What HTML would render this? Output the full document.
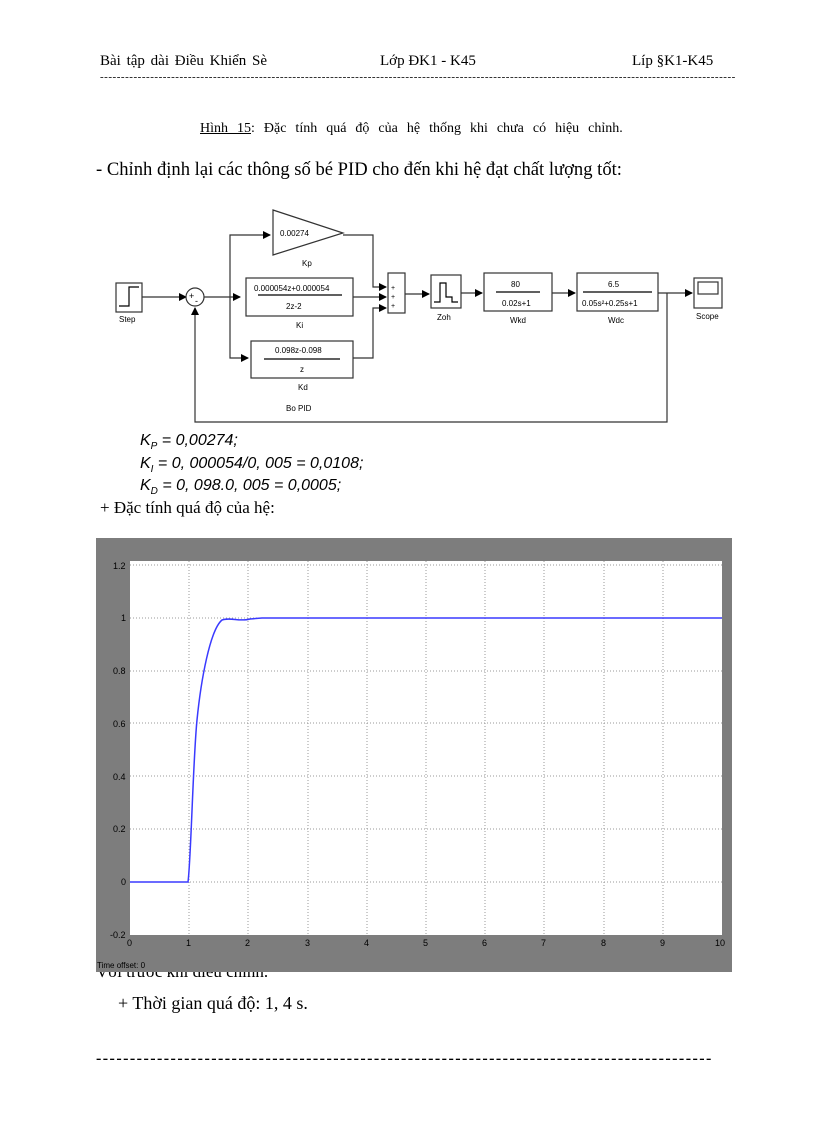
<!DOCTYPE html>
<html><head><meta charset="utf-8"><style>
body{margin:0;background:#fff;width:816px;height:1123px;overflow:hidden;position:relative;font-family:"Liberation Serif",serif;color:#000}
.t{position:absolute;white-space:nowrap;z-index:0}
.k{position:absolute;white-space:nowrap;font-size:16px;font-style:italic;font-family:'Liberation Sans',sans-serif;line-height:18px}
.k sub{font-size:10px;vertical-align:0;position:relative;top:4px;line-height:0}
</style></head><body>
<div class="t" style="left:100px;top:53px;font-size:15px;word-spacing:2px">Bài tập dài Điều Khiển Sè</div>
<div class="t" style="left:380px;top:53px;font-size:15px">Lớp ĐK1 - K45</div>
<div class="t" style="left:632px;top:53px;font-size:15px">Líp §K1-K45</div>
<div class="t" style="left:100px;top:71px;font-size:11px;letter-spacing:0.52px">--------------------------------------------------------------------------------------------------------------------------------------------------------</div>
<div class="t" style="left:200px;top:121px;font-size:14px;word-spacing:5.5px"><u>Hình 15</u>: Đặc tính quá độ của hệ thống khi chưa có hiệu chỉnh.</div>
<div class="t" style="left:96px;top:159px;font-size:18.6px">- Chỉnh định lại các thông số bé PID cho đến khi hệ đạt chất lượng tốt:</div>
<div class="k" style="left:140px;top:432px">K<sub>P</sub> = 0,00274;</div>
<div class="k" style="left:140px;top:455px">K<sub>I</sub> = 0, 000054/0, 005 = 0,0108;</div>
<div class="k" style="left:140px;top:477px">K<sub>D</sub> = 0, 098.0, 005 = 0,0005;</div>
<div class="t" style="left:100px;top:498px;font-size:17px">+ Đặc tính quá độ của hệ:</div>
<div class="t" style="left:96px;top:962px;font-size:17px">Với trước khi điều chỉnh.</div>
<div class="t" style="left:118px;top:993px;font-size:18px">+ Thời gian quá độ: 1, 4 s.</div>
<div class="t" style="left:96px;top:1050px;font-size:16px;font-weight:bold;letter-spacing:1.45px">-------------------------------------------------------------------------------------------</div>

<svg style="position:absolute;left:0;top:0;z-index:1" width="816" height="1123" font-family="Liberation Sans,sans-serif">
<defs><marker id="a" markerWidth="8" markerHeight="8" refX="7" refY="4" orient="auto" markerUnits="userSpaceOnUse"><path d="M0,0L8,4L0,8z" fill="#000"/></marker></defs>
<g stroke="#333" fill="none" stroke-width="1.2">
<rect x="116" y="283" width="26" height="29" fill="#fff"/>
<path d="M119,306 H129 V287 H139" stroke="#000"/>
<line x1="142" y1="297" x2="186" y2="297" marker-end="url(#a)"/>
<circle cx="195" cy="297" r="9" fill="#fff"/>
<line x1="204" y1="297" x2="240" y2="297" marker-end="url(#a)"/>
<path d="M230,297 V235 H270" marker-end="url(#a)"/>
<path d="M230,297 V358 H248" marker-end="url(#a)"/>
<polygon points="273,210 343,233 273,255" fill="#fff"/>
<rect x="246" y="278" width="107" height="38" fill="#fff"/>
<rect x="251" y="341" width="102" height="37" fill="#fff"/>
<path d="M343,235 H373 V287 H386" marker-end="url(#a)"/>
<line x1="353" y1="297" x2="386" y2="297" marker-end="url(#a)"/>
<path d="M353,358 H373 V308 H386" marker-end="url(#a)"/>
<rect x="388" y="273" width="17" height="40" fill="#fff"/>
<line x1="405" y1="294" x2="429" y2="294" marker-end="url(#a)"/>
<rect x="431" y="275" width="30" height="33" fill="#fff"/>
<path d="M434,302 H440 V283 H446 V297 H452 V302 H458" stroke="#000"/>
<line x1="461" y1="293" x2="482" y2="293" marker-end="url(#a)"/>
<rect x="484" y="273" width="68" height="38" fill="#fff"/>
<line x1="552" y1="293" x2="575" y2="293" marker-end="url(#a)"/>
<rect x="577" y="273" width="81" height="38" fill="#fff"/>
<line x1="658" y1="293" x2="692" y2="293" marker-end="url(#a)"/>
<rect x="694" y="278" width="28" height="30" fill="#fff"/>
<rect x="698" y="282" width="20" height="12"/>
<path d="M667,293 V422 H195 V308" marker-end="url(#a)"/>
<line x1="258" y1="295" x2="342" y2="295" stroke="#000"/>
<line x1="264" y1="359" x2="340" y2="359" stroke="#000"/>
<line x1="496" y1="292" x2="540" y2="292" stroke="#000"/>
<line x1="583" y1="292" x2="652" y2="292" stroke="#000"/>
</g>
<g font-size="8" fill="#000">
<text x="119" y="322">Step</text>
<text x="189" y="299" font-size="9">+</text><text x="195" y="304" font-size="9">-</text>
<text x="280" y="236">0.00274</text>
<text x="302" y="266">Kp</text>
<text x="254" y="291">0.000054z+0.000054</text>
<text x="286" y="309">2z-2</text>
<text x="296" y="328">Ki</text>
<text x="275" y="353">0.098z-0.098</text>
<text x="300" y="372">z</text>
<text x="298" y="390">Kd</text>
<text x="286" y="411">Bo PID</text>
<text x="391" y="290" font-size="7">+</text><text x="391" y="299" font-size="7">+</text><text x="391" y="308" font-size="7">+</text>
<text x="437" y="320">Zoh</text>
<text x="511" y="287">80</text>
<text x="502" y="306">0.02s+1</text>
<text x="510" y="323">Wkd</text>
<text x="608" y="287">6.5</text>
<text x="582" y="306">0.05s²+0.25s+1</text>
<text x="608" y="323">Wdc</text>
<text x="696" y="319">Scope</text>
</g>

<rect x="96" y="538" width="636" height="434" fill="#7d7d7d"/>
<rect x="130" y="561" width="592" height="374" fill="#fff"/>
<g stroke="#999" stroke-dasharray="1,2" stroke-width="1">
<line x1="189" y1="561" x2="189" y2="935"/><line x1="248" y1="561" x2="248" y2="935"/><line x1="308" y1="561" x2="308" y2="935"/><line x1="367" y1="561" x2="367" y2="935"/><line x1="426" y1="561" x2="426" y2="935"/><line x1="485" y1="561" x2="485" y2="935"/><line x1="544" y1="561" x2="544" y2="935"/><line x1="604" y1="561" x2="604" y2="935"/><line x1="663" y1="561" x2="663" y2="935"/>
<line x1="130" y1="565" x2="722" y2="565"/><line x1="130" y1="618" x2="722" y2="618"/><line x1="130" y1="671" x2="722" y2="671"/><line x1="130" y1="723" x2="722" y2="723"/><line x1="130" y1="776" x2="722" y2="776"/><line x1="130" y1="829" x2="722" y2="829"/><line x1="130" y1="882" x2="722" y2="882"/>
</g>
<path d="M130,882 H188 C191,860 193,760 197,720 C201,680 210,630 222,620 C230,617 240,622 250,619 L262,618 H722" stroke="#3a3aff" stroke-width="1.5" fill="none"/>
<g font-size="9" fill="#000">
<text x="113" y="569">1.2</text><text x="121" y="621">1</text><text x="113" y="674">0.8</text><text x="113" y="727">0.6</text><text x="113" y="780">0.4</text><text x="113" y="832">0.2</text><text x="121" y="885">0</text><text x="110" y="938">-0.2</text>
<text x="127" y="946">0</text><text x="186" y="946">1</text><text x="245" y="946">2</text><text x="305" y="946">3</text><text x="364" y="946">4</text><text x="423" y="946">5</text><text x="482" y="946">6</text><text x="541" y="946">7</text><text x="601" y="946">8</text><text x="660" y="946">9</text><text x="715" y="946">10</text>
<text x="97" y="968" font-size="8">Time offset:  0</text>
</g>
</svg>
</body></html>
